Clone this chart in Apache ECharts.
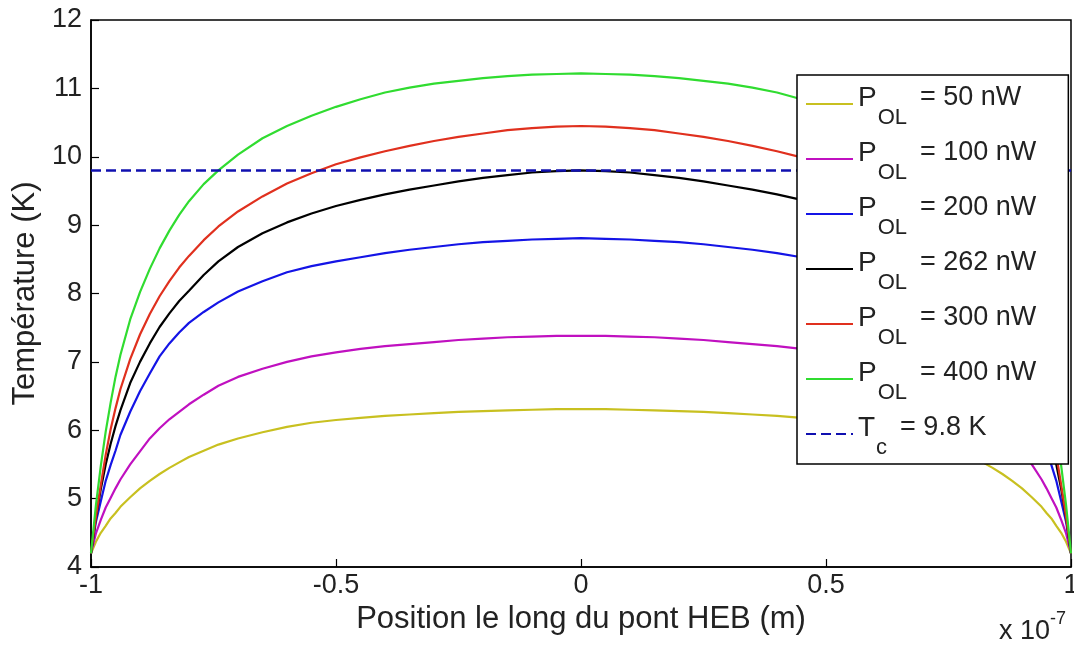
<!DOCTYPE html>
<html><head><meta charset="utf-8">
<script src="https://cdn.jsdelivr.net/npm/echarts@6/dist/echarts.min.js"></script>
<style>html,body{margin:0;padding:0;background:#fff}#c{width:1074px;height:648px}</style>
</head><body><div id="c"></div>
<script>
// Position along the HEB bridge (x 1e-7 m)
const xs = [-1,-0.99,-0.98,-0.97,-0.96,-0.95,-0.94,-0.92,-0.90,-0.88,-0.86,-0.84,-0.82,-0.80,-0.77,-0.74,-0.70,-0.65,-0.60,-0.55,-0.50,-0.45,-0.40,-0.35,-0.30,-0.25,-0.20,-0.15,-0.10,-0.05,0,
            0.05,0.10,0.15,0.20,0.25,0.30,0.35,0.40,0.45,0.50,0.55,0.60,0.65,0.70,0.74,0.77,0.80,0.82,0.84,0.86,0.88,0.90,0.92,0.94,0.95,0.96,0.97,0.98,0.99,1];
// Temperature (K) for each P_OL
const t50  = [4.20,4.37,4.50,4.60,4.71,4.79,4.88,5.02,5.15,5.26,5.36,5.45,5.53,5.61,5.70,5.79,5.88,5.97,6.05,6.11,6.15,6.18,6.21,6.23,6.25,6.27,6.28,6.29,6.30,6.31,6.31,
              6.31,6.30,6.29,6.28,6.27,6.25,6.23,6.21,6.18,6.15,6.11,6.05,5.97,5.88,5.79,5.70,5.61,5.53,5.45,5.36,5.26,5.15,5.02,4.88,4.79,4.71,4.60,4.50,4.37,4.20];
const t100 = [4.20,4.49,4.69,4.87,5.01,5.15,5.28,5.50,5.69,5.88,6.03,6.16,6.27,6.38,6.52,6.65,6.78,6.90,7.00,7.08,7.14,7.19,7.23,7.26,7.29,7.32,7.34,7.36,7.37,7.38,7.38,
              7.38,7.37,7.36,7.34,7.32,7.29,7.26,7.23,7.19,7.14,7.08,7.00,6.90,6.78,6.65,6.52,6.38,6.27,6.16,6.03,5.88,5.69,5.50,5.28,5.15,5.01,4.87,4.69,4.49,4.20];
const t200 = [4.20,4.66,4.96,5.26,5.49,5.70,5.93,6.27,6.57,6.83,7.08,7.27,7.43,7.57,7.73,7.87,8.03,8.18,8.31,8.40,8.47,8.53,8.59,8.64,8.68,8.72,8.75,8.77,8.79,8.80,8.81,
              8.80,8.79,8.77,8.75,8.72,8.68,8.64,8.59,8.53,8.47,8.40,8.31,8.18,8.03,7.87,7.73,7.57,7.43,7.27,7.08,6.83,6.57,6.27,5.93,5.70,5.49,5.26,4.96,4.66,4.20];
const t262 = [4.20,4.72,5.14,5.50,5.80,6.06,6.29,6.69,7.00,7.27,7.51,7.71,7.89,8.04,8.27,8.47,8.68,8.88,9.04,9.17,9.28,9.37,9.45,9.52,9.58,9.64,9.69,9.73,9.77,9.79,9.80,
              9.79,9.77,9.73,9.69,9.64,9.58,9.52,9.45,9.37,9.28,9.17,9.04,8.88,8.68,8.47,8.27,8.04,7.89,7.71,7.51,7.27,7.00,6.69,6.29,6.06,5.80,5.50,5.14,4.72,4.20];
const t300 = [4.20,4.73,5.20,5.64,6.01,6.32,6.60,7.04,7.40,7.70,7.96,8.18,8.38,8.55,8.78,8.98,9.20,9.42,9.61,9.76,9.89,9.99,10.08,10.16,10.23,10.29,10.34,10.39,10.42,10.44,10.45,
              10.44,10.42,10.39,10.34,10.29,10.23,10.16,10.08,9.99,9.89,9.76,9.61,9.42,9.20,8.98,8.78,8.55,8.38,8.18,7.96,7.70,7.40,7.04,6.60,6.32,6.01,5.64,5.20,4.73,4.20];
const t400 = [4.20,4.90,5.48,5.98,6.40,6.78,7.10,7.62,8.02,8.36,8.66,8.92,9.15,9.35,9.60,9.80,10.03,10.27,10.45,10.60,10.73,10.84,10.94,11.01,11.07,11.11,11.15,11.18,11.20,11.21,11.22,
              11.21,11.20,11.18,11.15,11.11,11.07,11.01,10.94,10.84,10.73,10.60,10.45,10.27,10.03,9.80,9.60,9.35,9.15,8.92,8.66,8.36,8.02,7.62,7.10,6.78,6.40,5.98,5.48,4.90,4.20];
// Critical temperature line
const tcX = [-1, 1];
const tcY = [9.8, 9.8];
// Legend labels
const powers = ['50', '100', '200', '262', '300', '400'];
const tcLabel = '9.8 K';

const FONT = 'Liberation Sans, Arial, sans-serif';
const colors = ['#c8c020', '#c010c0', '#1414e6', '#000000', '#e0301e', '#30dc30'];
const curves = [t50, t100, t200, t262, t300, t400];
const zip = (a, b) => a.map((v, i) => [v, b[i]]);

const series = curves.map((c, i) => ({
  name: 'POL' + powers[i],
  type: 'line',
  data: zip(xs, c),
  symbol: 'none',
  smooth: false,
  lineStyle: { color: colors[i], width: 2.2 },
  itemStyle: { color: colors[i] },
  z: 2 + i
}));
series.push({
  name: 'TC',
  type: 'line',
  data: zip(tcX, tcY),
  symbol: 'none',
  lineStyle: { color: '#1010b0', width: 2.5, type: [10, 5] },
  itemStyle: { color: '#1010b0' },
  z: 10
});

const chart = echarts.init(document.getElementById('c'), null, { renderer: 'canvas' });
chart.setOption({
  animation: false,
  backgroundColor: '#fff',
  grid: { left: 91, right: 3, top: 20, bottom: 81, outerBoundsMode: 'none', containLabel: false,
          show: true, borderColor: '#000', borderWidth: 1.5, backgroundColor: 'transparent' },
  xAxis: {
    type: 'value', min: -1, max: 1, interval: 0.5,
    name: 'Position le long du pont HEB (m)', nameLocation: 'middle', nameGap: 37,
    nameTextStyle: { fontSize: 31, color: '#222', fontFamily: FONT },
    axisLine: { show: true, onZero: false, lineStyle: { color: '#000', width: 1.5 } },
    axisTick: { show: true, inside: true, length: 8, lineStyle: { color: '#000', width: 1.2 } },
    axisLabel: { fontSize: 27, color: '#222', fontFamily: FONT, margin: 5 },
    splitLine: { show: false }
  },
  yAxis: {
    type: 'value', min: 4, max: 12, interval: 1,
    name: 'Température (K)', nameLocation: 'middle', nameGap: 50, nameRotate: 90,
    nameTextStyle: { fontSize: 31, color: '#222', fontFamily: FONT },
    axisLine: { show: true, onZero: false, lineStyle: { color: '#000', width: 1.5 } },
    axisTick: { show: true, inside: true, length: 8, lineStyle: { color: '#000', width: 1.2 } },
    axisLabel: { fontSize: 27, color: '#222', fontFamily: FONT, margin: 9 },
    splitLine: { show: false }
  },
  legend: {
    orient: 'vertical', left: 797, top: 75, z: 30,
    padding: [4, 32, 5, 8], itemGap: 5, itemWidth: 47, itemHeight: 14,
    backgroundColor: '#fff', borderColor: '#000', borderWidth: 1.5,
    itemStyle: { opacity: 0 },
    lineStyle: { opacity: 1 },
    data: series.map(s => s.name),
    formatter: function (name) {
      if (name === 'TC') return '{p|T}{s|c}{t|= ' + tcLabel + '}';
      return '{p|P}{s|OL}{t|= ' + name.slice(3) + ' nW}';
    },
    textStyle: {
      color: '#222', fontFamily: FONT,
      rich: {
        p: { fontSize: 28, lineHeight: 30, padding: [0, 0, 12, 0], verticalAlign: 'middle', fontFamily: FONT, color: '#222' },
        s: { fontSize: 22, lineHeight: 22, padding: [28, 0, 0, 1], verticalAlign: 'middle', fontFamily: FONT, color: '#222' },
        t: { fontSize: 27, lineHeight: 30, padding: [0, 0, 12, 13], verticalAlign: 'middle', fontFamily: FONT, color: '#222' }
      }
    }
  },
  graphic: [{
    type: 'text', right: 8, top: 610,
    style: {
      text: '{a|x 10}{b|-7}',
      rich: {
        a: { fontSize: 27, fontFamily: FONT, fill: '#222', padding: [12, 0, 0, 0], verticalAlign: 'middle' },
        b: { fontSize: 18, fontFamily: FONT, fill: '#222', padding: [0, 0, 14, 0], verticalAlign: 'middle' }
      }
    }
  }],
  series: series
});
</script></body></html>
